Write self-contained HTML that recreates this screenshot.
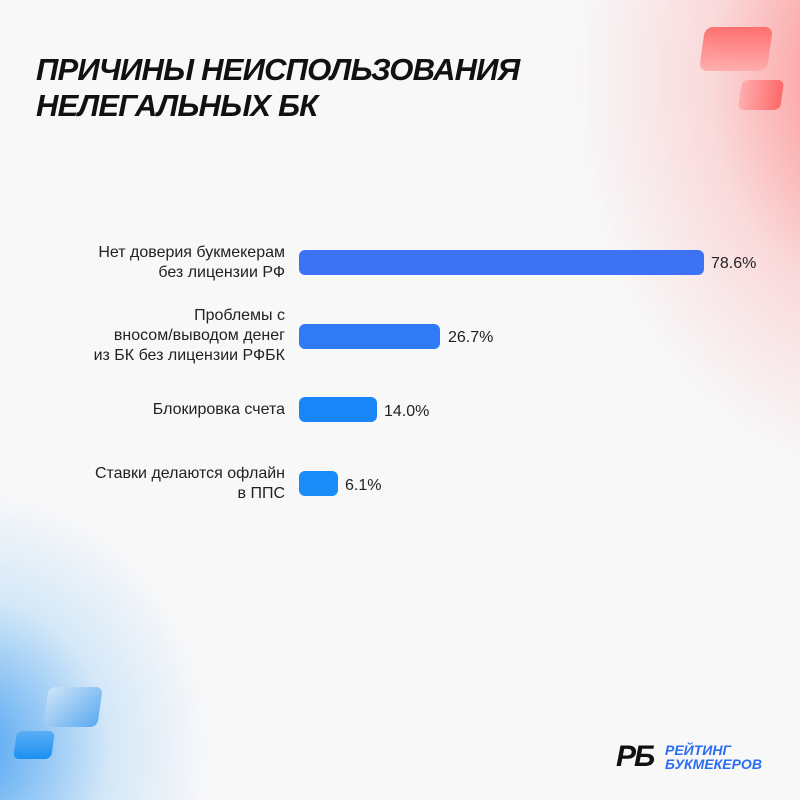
<!DOCTYPE html>
<html style="margin:0;overflow:hidden;width:800px;height:800px"><head><meta charset="utf-8"><style>
body{margin:0;width:800px;height:800px;overflow:hidden;font-family:"Liberation Sans",sans-serif;}
.bg{position:absolute;left:0;top:0;width:800px;height:800px;background:#f8f8f9;overflow:hidden}
.t{position:absolute;left:36px;top:52px;font-size:31px;font-weight:bold;font-style:italic;line-height:36px;color:#111;letter-spacing:-0.8px}
.lab{position:absolute;right:515px;text-align:right;font-size:16px;line-height:20px;color:#222}
.bar{position:absolute;left:299px;height:25px;border-radius:6px}
.val{position:absolute;font-size:16px;color:#222;line-height:20px}
</style></head><body><div class="bg">
<div style="position:absolute;left:560px;top:-150px;width:400px;height:650px;background:radial-gradient(ellipse at 85% 35%,rgba(255,90,90,0.8),rgba(255,150,150,0.3) 40%,rgba(255,255,255,0) 68%)"></div>
<div style="position:absolute;left:-200px;top:480px;width:420px;height:450px;background:radial-gradient(ellipse at 40% 60%,rgba(30,140,240,0.8),rgba(130,195,245,0.3) 40%,rgba(255,255,255,0) 68%)"></div>
<div style="position:absolute;left:702px;top:27px;width:68px;height:44px;border-radius:8px;background:linear-gradient(#ff6666,#ffaaaa);transform:skewX(-8deg);opacity:.9"></div>
<div style="position:absolute;left:740px;top:80px;width:42px;height:30px;border-radius:6px;background:linear-gradient(90deg,#ffaaaa,#ff6060);transform:skewX(-8deg);opacity:.9"></div>
<div style="position:absolute;left:46px;top:687px;width:54px;height:40px;border-radius:7px;background:linear-gradient(135deg,#cfe4f8,#5aaaf0);transform:skewX(-8deg)"></div>
<div style="position:absolute;left:15px;top:731px;width:38px;height:28px;border-radius:6px;background:linear-gradient(#5ab0f5,#1c8ff0);transform:skewX(-8deg)"></div>
<div class="t">ПРИЧИНЫ НЕИСПОЛЬЗОВАНИЯ<br>НЕЛЕГАЛЬНЫХ БК</div>
<div class="lab" style="top:243px">Нет доверия букмекерам<br>без лицензии РФ</div>
<div class="lab" style="top:306px">Проблемы с<br>вносом/выводом денег<br>из БК без лицензии РФБК</div>
<div class="lab" style="top:400px">Блокировка счета</div>
<div class="lab" style="top:464px">Ставки делаются офлайн<br>в ППС</div>
<div class="bar" style="top:250px;width:405px;background:#3d72f5"></div>
<div class="bar" style="top:324px;width:141px;background:#2f7af5"></div>
<div class="bar" style="top:397px;width:78px;background:#1a85f7"></div>
<div class="bar" style="top:471px;width:39px;background:#1a8cf7"></div>
<div class="val" style="left:711px;top:254px">78.6%</div>
<div class="val" style="left:448px;top:328px">26.7%</div>
<div class="val" style="left:384px;top:402px">14.0%</div>
<div class="val" style="left:345px;top:476px">6.1%</div>
<div style="position:absolute;left:616px;top:742px;font-size:30px;font-weight:bold;font-style:italic;color:#111;line-height:30px;letter-spacing:-2px">РБ</div>
<div style="position:absolute;left:665px;top:743px;font-size:14px;font-weight:bold;font-style:italic;color:#2a6ef0;line-height:14px">РЕЙТИНГ<br>БУКМЕКЕРОВ</div>
</div></body></html>
